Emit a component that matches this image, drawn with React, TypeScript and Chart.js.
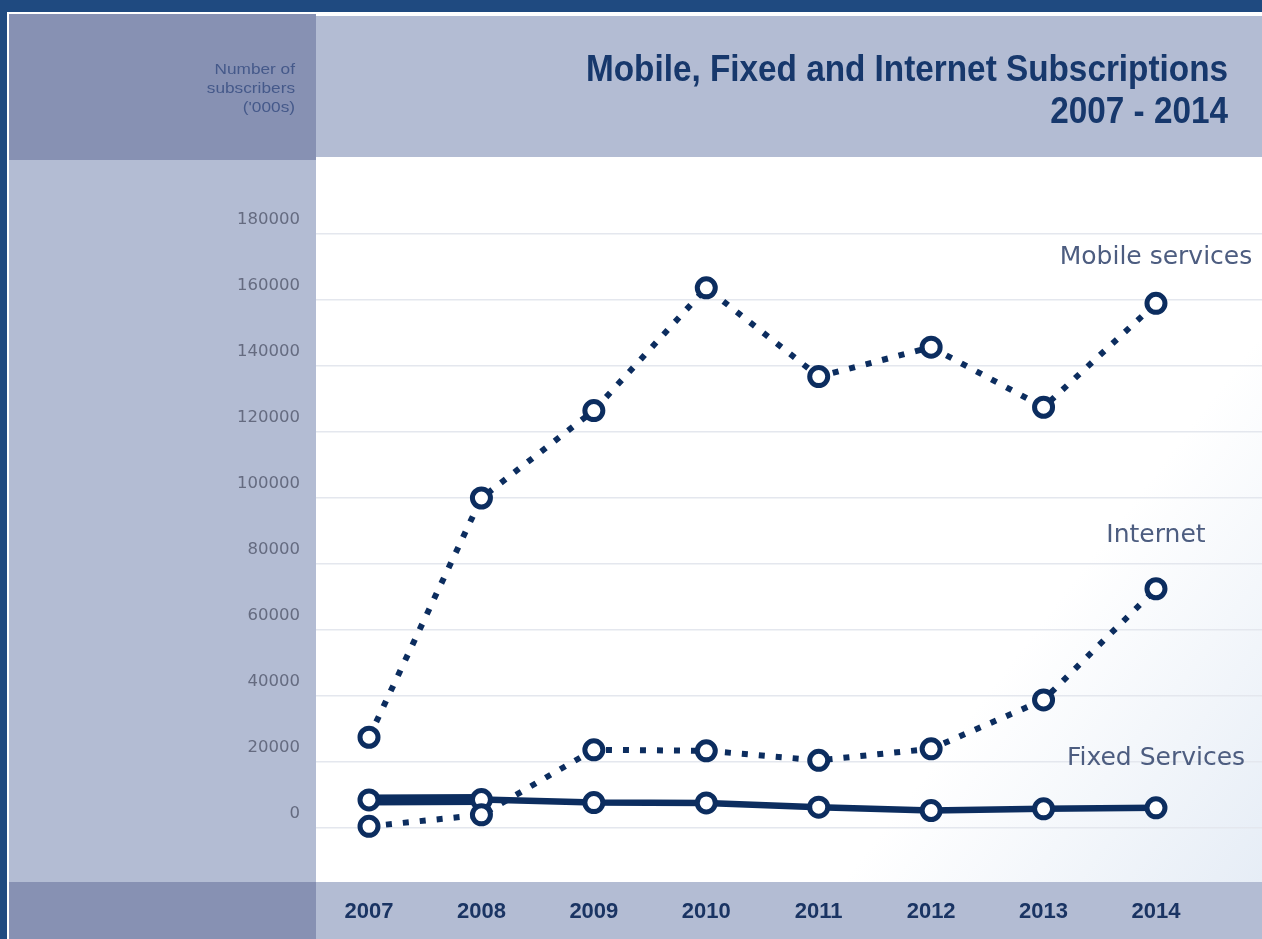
import { useEffect, useRef } from 'react';
import { Chart, registerables } from 'chart.js';

Chart.register(...registerables);

// ---- data ----
const categories = ['2007', '2008', '2009', '2010', '2011', '2012', '2013', '2014'];
const mobileValues = [27500, 100000, 126500, 163700, 136800, 145700, 127500, 159000];
const internetValues = [500, 4000, 23700, 23400, 20500, 24000, 38800, 72500];
const fixedValues = [8500, 8600, 7700, 7600, 6300, 5300, 5800, 6100];
const yTickValues = [0, 20000, 40000, 60000, 80000, 100000, 120000, 140000, 160000, 180000];
const seriesNames = ['Mobile services', 'Internet', 'Fixed Services'];
const titleLines = ['Mobile, Fixed and Internet Subscriptions', '2007 - 2014'];
const yAxisTitleLines = ['Number of', 'subscribers', "('000s)"];

const W = 1262;
const H = 939;
const NAVY = '#0c2d5f';
const PANEL = '#b3bcd3';
const PANEL_DARK = '#8791b3';
const BORDER = '#1f4a80';

export default function App() {
  const ref = useRef<HTMLCanvasElement | null>(null);

  useEffect(() => {
    document.body.style.margin = '0';
    const canvas = ref.current;
    if (!canvas) return;

    const bgPlugin = {
      id: 'bgPlugin',
      beforeDraw(chart: any) {
        const ctx = chart.ctx as CanvasRenderingContext2D;
        const a = chart.chartArea;
        ctx.save();
        ctx.fillStyle = BORDER;
        ctx.fillRect(0, 0, W, H);
        ctx.fillStyle = '#ffffff';
        ctx.fillRect(7, 12, W - 7, H - 12);
        // left column
        ctx.fillStyle = PANEL;
        ctx.fillRect(9, 14, a.left - 9, H - 14);
        // header right band
        ctx.fillRect(a.left, 16, W - a.left, 141);
        // bottom band
        ctx.fillRect(a.left, a.bottom, W - a.left, H - a.bottom);
        // dark boxes
        ctx.fillStyle = PANEL_DARK;
        ctx.fillRect(9, 14, a.left - 9, a.top - 14);
        ctx.fillRect(9, a.bottom, a.left - 9, H - a.bottom);
        // plot area
        const g = ctx.createLinearGradient(a.left, a.top, a.right, a.bottom);
        g.addColorStop(0, '#ffffff');
        g.addColorStop(0.72, '#ffffff');
        g.addColorStop(1, '#e6edf6');
        ctx.fillStyle = g;
        ctx.fillRect(a.left, a.top, a.right - a.left, a.bottom - a.top);

        // title (condensed look via horizontal scale)
        ctx.fillStyle = '#17386c';
        ctx.textAlign = 'right';
        ctx.textBaseline = 'alphabetic';
        ctx.font = 'bold 37px "Liberation Sans", Arial, sans-serif';
        ctx.save();
        ctx.translate(1228, 0);
        ctx.scale(0.9, 1);
        ctx.fillText(titleLines[0], 0, 81);
        ctx.fillText(titleLines[1], 0, 123);
        ctx.restore();

        // y axis title
        ctx.fillStyle = '#45598a';
        ctx.font = '15px "Liberation Sans", Arial, sans-serif';
        ctx.textAlign = 'right';
        ctx.textBaseline = 'middle';
        ctx.save();
        ctx.translate(295, 0);
        ctx.scale(1.15, 1);
        yAxisTitleLines.forEach((t, i) => ctx.fillText(t, 0, 70 + i * 19));
        ctx.restore();
        ctx.restore();
      },
    };

    const labelPlugin = {
      id: 'labelPlugin',
      afterDatasetsDraw(chart: any) {
        const ctx = chart.ctx as CanvasRenderingContext2D;
        ctx.save();
        ctx.font = '25px "DejaVu Sans", sans-serif';
        ctx.fillStyle = '#4d5d80';
        ctx.textAlign = 'center';
        ctx.textBaseline = 'middle';
        chart.data.datasets.forEach((ds: any, i: number) => {
          const meta = chart.getDatasetMeta(i);
          const pt = meta.data[meta.data.length - 1];
          if (!pt) return;
          ctx.fillText(ds.label, pt.x, pt.y + ds.nameOffset);
        });
        ctx.restore();
      },
    };

    const toPoints = (arr: number[]) => arr.map((v, i) => ({ x: i, y: v }));
    const common = {
      borderColor: NAVY,
      pointBackgroundColor: '#ffffff',
      pointBorderColor: NAVY,
      pointRadius: 9,
      pointBorderWidth: 5,
      pointHoverRadius: 9,
      tension: 0,
      fill: false,
    };

    const chart = new Chart(canvas, {
      type: 'line',
      data: {
        datasets: [
          {
            ...common,
            label: seriesNames[0],
            data: toPoints(mobileValues),
            borderWidth: 6,
            borderDash: [6, 11],
            borderCapStyle: 'butt',
            nameOffset: -46,
          } as any,
          {
            ...common,
            label: seriesNames[1],
            data: toPoints(internetValues),
            borderWidth: 6,
            borderDash: [6, 11],
            borderCapStyle: 'butt',
            nameOffset: -53,
          } as any,
          {
            ...common,
            label: seriesNames[2],
            data: toPoints(fixedValues),
            borderWidth: 6.5,
            segment: {
              borderWidth: (c: any) => (c.p0DataIndex === 0 ? 11 : 6.5),
            },
            nameOffset: -49,
          } as any,
        ],
      },
      options: {
        animation: false,
        responsive: true,
        maintainAspectRatio: false,
        devicePixelRatio: 1,
        layout: { autoPadding: false, padding: { left: 9, top: 160, right: 0, bottom: 0 } },
        plugins: {
          legend: { display: false },
          tooltip: { enabled: false },
          title: { display: false },
        },
        scales: {
          x: {
            type: 'linear',
            position: 'bottom',
            min: -0.4715,
            max: 7.943,
            grid: { display: false, drawTicks: false },
            border: { display: false },
            ticks: {
              stepSize: 1,
              includeBounds: false,
              autoSkip: false,
              maxRotation: 0,
              padding: 17,
              color: '#1a3463',
              font: { family: '"Liberation Sans", Arial, sans-serif', size: 22, weight: 'bold' },
              callback: (v: any) => categories[v as number] ?? '',
            },
            afterFit: (s: any) => {
              s.height = 57;
            },
          },
          y: {
            type: 'linear',
            min: -16364,
            max: 202424,
            grid: { color: '#e4e7ee', lineWidth: 1.5, drawTicks: false },
            border: { display: false },
            ticks: {
              padding: 16,
              labelOffset: -14,
              color: '#656b80',
              font: { family: '"DejaVu Sans", sans-serif', size: 16.5 },
              callback: (v: any) => String(v),
            },
            afterBuildTicks: (s: any) => {
              s.ticks = yTickValues.map((v) => ({ value: v }));
            },
            afterFit: (s: any) => {
              s.width = 307;
            },
          },
        },
      } as any,
      plugins: [bgPlugin, labelPlugin],
    });

    return () => chart.destroy();
  }, []);

  return (
    <div style={{ width: W, height: H, position: 'relative' }}>
      <canvas ref={ref} />
    </div>
  );
}
